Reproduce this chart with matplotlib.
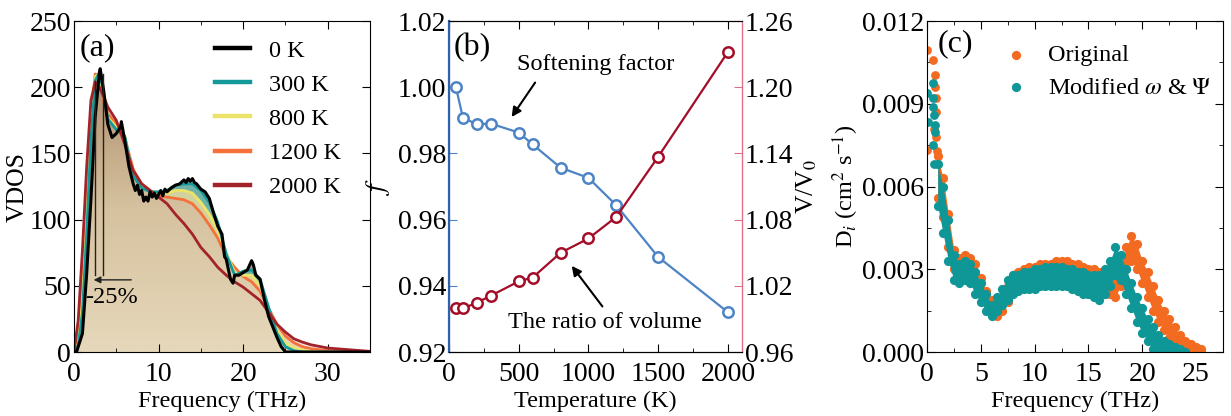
import numpy as np
import matplotlib
matplotlib.use("Agg")
import matplotlib.pyplot as plt
from matplotlib.colors import LinearSegmentedColormap
from matplotlib.ticker import MultipleLocator, FormatStrFormatter

plt.rcParams['font.family'] = ['Liberation Serif', 'DejaVu Serif']
plt.rcParams['mathtext.fontset'] = 'stix'

# ---- (a) vibrational DOS at several temperatures ----
freq_smooth = [0, 0.5, 1, 1.5, 2, 2.5, 3, 3.5, 4, 5, 6, 7, 8, 9, 10, 11, 12, 13, 14, 15,
               16, 17, 18, 19, 20, 21, 22, 23, 24, 25, 26, 27, 28, 30, 32, 35]
vdos_2000 = [0, 24, 77, 140, 190, 204, 200, 193, 185, 175, 157, 137, 127, 122, 117, 112, 104, 97, 89, 79,
             72, 64, 58, 53, 49, 44, 39, 30, 21, 15, 10, 7.5, 5.5, 3, 2, 0.5]
vdos_1200 = [0, 10, 50, 115, 175, 210, 208, 190, 180, 172, 162, 138, 127, 122, 118, 117, 116, 115, 112, 105,
             96, 86, 72, 64, 57, 53, 46, 33, 21, 12, 7, 4, 2.5, 1, 0.5, 0]
vdos_800 = [0, 7, 40, 105, 170, 208, 210, 193, 177, 170, 163, 135, 125, 121, 120, 120, 122, 122, 120, 113,
            104, 92, 75, 60, 58, 58, 50, 32, 16, 7, 3, 1.5, 0.5, 0, 0, 0]
vdos_300 = [0, 5, 30, 90, 160, 205, 211, 196, 176, 168, 163, 133, 124, 121, 121, 122, 126, 127, 127, 122,
            113, 98, 74, 58, 61, 62, 55, 34, 14, 4, 1, 0, 0, 0, 0, 0]

freq_0k = [0, 0.3, 1, 1.5, 2, 2.5, 3, 3.1, 3.5, 4, 4.5, 5, 5.5, 5.6, 6, 6.5, 7, 7.25, 7.5, 7.75,
           8, 8.25, 8.5, 8.75, 9, 9.25, 9.5, 9.75, 10, 10.25, 10.5, 10.75, 11, 11.5, 12, 12.5, 13, 13.25, 13.5, 13.75,
           14, 14.25, 14.5, 15, 15.5, 16, 16.5, 17, 17.5, 17.8, 18, 18.5, 18.8, 19, 19.5, 20, 20.5, 21, 21.2, 21.5,
           22, 22.5, 23, 23.5, 24, 24.5, 25, 30, 35]
vdos_0k = [0, 0, 14, 59, 115, 177, 211, 214, 198, 172, 162, 165, 170, 174, 160, 140, 127, 122, 126, 119,
           122, 114, 117, 114, 121, 117, 120, 116, 119, 122, 118, 123, 121, 124, 126, 127, 130, 128, 131, 129,
           131, 128, 127, 123, 121, 116, 105, 95, 89, 72, 70, 55, 52, 58, 58, 60, 62, 69, 66, 58,
           55, 40, 27, 19, 11, 4, 0, 0, 0]

# ---- (b) softening factor and volume ratio vs temperature ----
temps = [50, 100, 200, 300, 500, 600, 800, 1000, 1200, 1500, 2000]
soft_f = [1.000, 0.9908, 0.9888, 0.9890, 0.9863, 0.9827, 0.9757, 0.9726, 0.9643, 0.9487, 0.9320]
vol_ratio = [0.9995, 0.9995, 1.0047, 1.011, 1.024, 1.0275, 1.0499, 1.0629, 1.0825, 1.137, 1.232]

# ---- (c) diffusivity bands (lower / upper edge of point cloud) ----
freq_mod = [1.0, 1.5, 2.0, 2.5, 3.0, 3.5, 4.0, 4.5, 5.0, 5.5, 6.0, 6.5, 7.0, 7.5, 8.0, 8.5, 9.0, 9.5, 10.0, 10.5,
            11.0, 11.5, 12.0, 12.5, 13.0, 13.5, 14.0, 14.5, 15.0, 15.5, 16.0, 16.5, 17.0, 17.5, 18.0, 18.5, 19.0, 19.5,
            20.0, 20.5, 21.0, 21.5, 22.0, 22.5, 23.0, 23.5, 24.0]
mod_lo = [0.0053, 0.0043, 0.0033, 0.0026, 0.0025, 0.0026, 0.0025, 0.0021, 0.0018, 0.0015, 0.0013, 0.0015, 0.0017,
          0.0019, 0.0021, 0.0022, 0.0023, 0.0023, 0.0023, 0.0024, 0.0024, 0.0024, 0.0024, 0.0024, 0.0024, 0.0023,
          0.0022, 0.0021, 0.0021, 0.0020, 0.0019, 0.0021, 0.0024, 0.0028, 0.0026, 0.0021, 0.0016, 0.0011, 0.0007,
          0.0004, 0.0001, 0.0000, 0.0000, 0.0000, 0.0000, 0.0000, 0.0000]
mod_hi = [0.0068, 0.0060, 0.0048, 0.0035, 0.0032, 0.0033, 0.0032, 0.0029, 0.0025, 0.0021, 0.0017, 0.0020, 0.0023,
          0.0026, 0.0028, 0.0028, 0.0029, 0.0029, 0.0030, 0.0030, 0.0031, 0.0031, 0.0031, 0.0031, 0.0030, 0.0030,
          0.0029, 0.0029, 0.0028, 0.0028, 0.0028, 0.0030, 0.0033, 0.0038, 0.0035, 0.0030, 0.0025, 0.0020, 0.0016,
          0.0012, 0.0009, 0.0006, 0.0004, 0.0003, 0.0002, 0.0001, 0.0000]

freq_orig = [1.0, 1.5, 2.0, 2.5, 3.0, 3.5, 4.0, 4.5, 5.0, 5.5, 6.0, 6.5, 7.0, 7.5, 8.0, 8.5, 9.0, 9.5, 10.0, 10.5,
             11.0, 11.5, 12.0, 12.5, 13.0, 13.5, 14.0, 14.5, 15.0, 15.5, 16.0, 16.5, 17.0, 17.5, 18.0, 18.5, 19.0,
             19.5, 20.0, 20.5, 21.0, 21.5, 22.0, 22.5, 23.0, 23.5, 24.0, 24.5, 25.0, 25.5]
orig_lo = [0.0056, 0.0049, 0.0038, 0.0030, 0.0030, 0.0030, 0.0029, 0.0025, 0.0021, 0.0018, 0.0015, 0.0013, 0.0015,
           0.0018, 0.0022, 0.0024, 0.0025, 0.0025, 0.0026, 0.0026, 0.0027, 0.0027, 0.0027, 0.0027, 0.0027, 0.0026,
           0.0026, 0.0025, 0.0024, 0.0023, 0.0022, 0.0021, 0.0021, 0.0020, 0.0024, 0.0030, 0.0033, 0.0030, 0.0025,
           0.0020, 0.0015, 0.0011, 0.0008, 0.0005, 0.0003, 0.0001, 0.0000, 0.0000, 0.0000, 0.0000]
orig_hi = [0.0071, 0.0063, 0.0050, 0.0037, 0.0034, 0.0035, 0.0034, 0.0032, 0.0027, 0.0022, 0.0019, 0.0017, 0.0020,
           0.0024, 0.0028, 0.0029, 0.0030, 0.0031, 0.0031, 0.0032, 0.0032, 0.0032, 0.0033, 0.0033, 0.0033, 0.0032,
           0.0032, 0.0031, 0.0030, 0.0030, 0.0029, 0.0029, 0.0029, 0.0030, 0.0031, 0.0038, 0.0042, 0.0039, 0.0033,
           0.0029, 0.0024, 0.0019, 0.0015, 0.0012, 0.0009, 0.0006, 0.0004, 0.0003, 0.0002, 0.0001]

# scattered low-frequency points
orig_spike_f = [0.03, 0.6, 0.74, 0.74, 0.8, 0.8, 0.0, 0.9, 0.7, 0.85]
orig_spike_d = [0.01095, 0.01059, 0.01004, 0.00960, 0.00920, 0.00870, 0.00732, 0.00730, 0.00810, 0.00780]
mod_spike_f = [0.57, 0.0, 0.57, 0.57, 0.1, 0.74, 0.74, 0.57, 0.65, 0.7]
mod_spike_d = [0.00975, 0.0094, 0.0092, 0.0089, 0.00834, 0.00823, 0.00798, 0.0075, 0.0068, 0.0086]

C_ORANGE = '#f36b21'
C_TEAL = '#0f9696'

fig = plt.figure(figsize=(12.31, 4.16), dpi=100)
ax_a = fig.add_axes([0.0601, 0.1538, 0.2405, 0.7957])
ax_b = fig.add_axes([0.3647, 0.1538, 0.2380, 0.7957])
ax_c = fig.add_axes([0.7530, 0.1538, 0.2405, 0.7957])

TICK_FS = 20
LAB_FS = 17.5
TXT_FS = 17.5
PANEL_FS = 23
XPAD = 7
XLABPAD = 3

# ---------------- panel (a) ----------------
ax_a.fill_between(freq_smooth, 0, vdos_2000, color='#f4e3e1', lw=0, zorder=1.0)
ax_a.fill_between(freq_0k, 0, vdos_0k, color='#97a69d', lw=0, zorder=1.1)
ax_a.fill_between(freq_smooth, 0, vdos_300, color='#6fb1a6', lw=0, zorder=1.2)
ax_a.fill_between(freq_smooth, 0, vdos_800, color='#d2d39c', lw=0, zorder=1.3)
clip = ax_a.fill_between(freq_smooth, 0, vdos_1200, color='none', lw=0)
tan = LinearSegmentedColormap.from_list('tan', ['#e6d8bb', '#d6c29f', '#ad8b6b'])
ramp = np.linspace(0, 1, 256).reshape(-1, 1)
im = ax_a.imshow(ramp, extent=(0, 35, 0, 215), origin='lower', cmap=tan,
                 aspect='auto', zorder=1.4)
im.set_clip_path(clip.get_paths()[0], transform=ax_a.transData)

ax_a.plot(freq_smooth, vdos_2000, color='#a3232a', lw=2.0, zorder=2.5, label='2000 K')
ax_a.plot(freq_smooth, vdos_1200, color='#f5703a', lw=2.0, zorder=2.2, label='1200 K')
ax_a.plot(freq_smooth, vdos_800, color='#ece46a', lw=2.0, zorder=2.3, label='800 K')
ax_a.plot(freq_smooth, vdos_300, color='#13999a', lw=2.0, zorder=2.4, label='300 K')
ax_a.plot(freq_0k, vdos_0k, color='black', lw=2.2, zorder=2.6, label='0 K')

# -25% shift marker
ax_a.plot([2.45, 2.45], [58, 205], color='#222222', lw=1.0, zorder=3)
ax_a.plot([3.4, 3.4], [58, 210], color='#222222', lw=1.0, zorder=3)
ax_a.annotate('', xy=(2.0, 54.5), xytext=(7.1, 54.5),
              arrowprops=dict(arrowstyle='-|>', color='#222222', lw=1.0, mutation_scale=10), zorder=3)
ax_a.text(4.4, 41, '-25%', fontsize=TXT_FS, ha='center', va='center', zorder=3)
ax_a.text(0.02, 0.92, '(a)', transform=ax_a.transAxes, fontsize=PANEL_FS, va='center')

h, l = ax_a.get_legend_handles_labels()
order = [4, 3, 2, 1, 0]
leg = ax_a.legend([h[i] for i in order], [l[i] for i in order], loc='upper left',
                  bbox_to_anchor=(0.403, 1.01), frameon=False, fontsize=TXT_FS,
                  handlelength=1.45, handletextpad=0.75, labelspacing=0.5)
for line in leg.get_lines():
    line.set_linewidth(3.2)

ax_a.set_xlim(0, 35)
ax_a.set_ylim(0, 250)
ax_a.xaxis.set_major_locator(MultipleLocator(10))
ax_a.xaxis.set_minor_locator(MultipleLocator(5))
ax_a.yaxis.set_major_locator(MultipleLocator(50))
ax_a.tick_params(which='both', direction='in', top=True, right=True, labelsize=TICK_FS, pad=2)
ax_a.tick_params(axis='x', pad=XPAD)
ax_a.tick_params(which='major', length=6)
ax_a.tick_params(which='minor', length=3)
ax_a.set_xlabel('Frequency (THz)', fontsize=LAB_FS, labelpad=XLABPAD)
ax_a.set_ylabel('VDOS', fontsize=LAB_FS + 1, labelpad=1)

# ---------------- panel (b) ----------------
C_BLUE = '#4c84c6'
C_RED = '#a30d28'
ax_b2 = ax_b.twinx()
ax_b.plot(temps, soft_f, '-o', color=C_BLUE, lw=1.6, ms=7.5, mew=1.8, mfc='white', zorder=3)
ax_b2.plot(temps, vol_ratio, '-o', color=C_RED, lw=1.6, ms=7.5, mew=1.8, mfc='white', zorder=3)

ax_b.set_xlim(0, 2100)
ax_b.set_ylim(0.92, 1.02)
ax_b2.set_ylim(0.96, 1.26)
ax_b.xaxis.set_major_locator(MultipleLocator(500))
ax_b.xaxis.set_minor_locator(MultipleLocator(250))
ax_b.yaxis.set_major_locator(MultipleLocator(0.02))
ax_b2.yaxis.set_major_locator(MultipleLocator(0.06))
ax_b.yaxis.set_major_formatter(FormatStrFormatter('%.2f'))
ax_b2.yaxis.set_major_formatter(FormatStrFormatter('%.2f'))
ax_b.tick_params(which='both', direction='in', top=True, labelsize=TICK_FS, pad=2)
ax_b.tick_params(axis='x', pad=XPAD)
ax_b.tick_params(axis='y', colors=C_BLUE, labelcolor='black', length=6)
ax_b.tick_params(which='major', axis='x', length=6)
ax_b.tick_params(which='minor', axis='x', length=3)
ax_b2.tick_params(direction='in', labelsize=TICK_FS, colors='#e0708a', labelcolor='black', length=6, pad=2)
ax_b2.spines['left'].set_color('#2f62ad')
ax_b2.spines['left'].set_linewidth(1.6)
ax_b2.spines['right'].set_color('#e0708a')
ax_b.set_xlabel('Temperature (K)', fontsize=LAB_FS, labelpad=XLABPAD)
ax_b.set_ylabel('$f$', fontsize=LAB_FS + 2, labelpad=4)
ax_b2.set_ylabel('V/V$_0$', fontsize=LAB_FS + 1, labelpad=1)

ax_b.annotate('', xy=(438, 0.9903), xytext=(629, 1.0021),
              arrowprops=dict(arrowstyle='-|>', color='black', lw=1.5, mutation_scale=14))
ax_b.text(1053, 1.0068, 'Softening factor', fontsize=TXT_FS, ha='center', va='center')
ax_b.annotate('', xy=(868, 0.9467), xytext=(1112, 0.9331),
              arrowprops=dict(arrowstyle='-|>', color='black', lw=1.5, mutation_scale=14))
ax_b.text(1120, 0.9288, 'The ratio of volume', fontsize=TXT_FS, ha='center', va='center')
ax_b.text(0.015, 0.92, '(b)', transform=ax_b.transAxes, fontsize=PANEL_FS, va='center')

# ---------------- panel (c) ----------------
for f, lo, hi, sf, sd, col, lab in [
        (freq_orig, orig_lo, orig_hi, orig_spike_f, orig_spike_d, C_ORANGE, 'Original'),
        (freq_mod, mod_lo, mod_hi, mod_spike_f, mod_spike_d, C_TEAL,
         r'Modified $\omega$ & $\mathit{\Psi}$')]:
    ax_c.fill_between(f, lo, hi, color=col, lw=0, zorder=2)
    ax_c.scatter(f, lo, s=44, color=col, lw=0, zorder=2)
    ax_c.scatter(f, hi, s=44, color=col, lw=0, zorder=2, label=lab)
    ax_c.scatter(sf, sd, s=40, color=col, lw=0, zorder=2)

ax_c.set_xlim(0, 27.5)
ax_c.set_ylim(0, 0.012)
ax_c.xaxis.set_major_locator(MultipleLocator(5))
ax_c.xaxis.set_minor_locator(MultipleLocator(2.5))
ax_c.yaxis.set_major_locator(MultipleLocator(0.003))
ax_c.yaxis.set_minor_locator(MultipleLocator(0.0015))
ax_c.yaxis.set_major_formatter(FormatStrFormatter('%.3f'))
ax_c.tick_params(which='both', direction='in', top=True, right=True, labelsize=TICK_FS, pad=2)
ax_c.tick_params(axis='x', pad=XPAD)
ax_c.tick_params(which='major', length=6)
ax_c.tick_params(which='minor', length=3)
ax_c.set_xlabel('Frequency (THz)', fontsize=LAB_FS, labelpad=XLABPAD)
ax_c.set_ylabel(r'D$_i$ (cm$^2$ s$^{-1}$)', fontsize=LAB_FS, labelpad=1)
ax_c.text(0.035, 0.93, '(c)', transform=ax_c.transAxes, fontsize=PANEL_FS, va='center')
ax_c.legend(loc='upper left', bbox_to_anchor=(0.22, 0.975), frameon=False, fontsize=TXT_FS,
            handlelength=0.8, handletextpad=0.9, labelspacing=0.45, scatterpoints=1,
            markerscale=1.0, borderaxespad=0.2)

fig.savefig('out.png', dpi=100)
